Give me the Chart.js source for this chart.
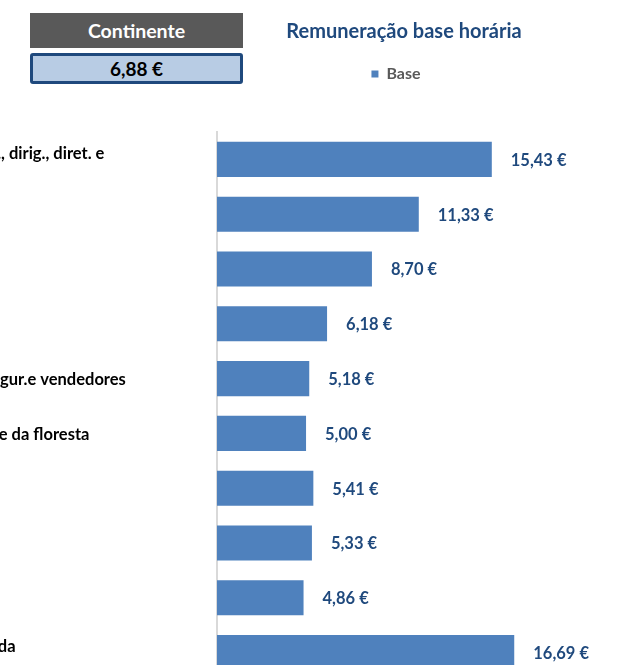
<!DOCTYPE html>
<html lang="pt">
<head>
<meta charset="utf-8">
<script src="https://cdn.jsdelivr.net/npm/chart.js@4"></script>
<style>
  html, body { margin: 0; padding: 0; background: #fff; overflow: hidden; }
  #wrap { position: relative; width: 622px; height: 680px; }
  #chart { position: absolute; left: 0; top: 0; }
  .caixa {
    position: absolute; left: 30px; width: 213px; box-sizing: border-box;
    display: flex; align-items: center; justify-content: center;
    font-family: Lato, sans-serif; font-weight: bold;
  }
  #regiao { top: 13px; height: 35px; background: #595959; color: #fff; font-size: 19.5px; }
  #media { top: 53px; height: 31px; background: #b8cce4; border: 3px solid #1f497d; border-radius: 3px; color: #000; font-size: 19px; }
</style>
</head>
<body>
<div id="wrap">
  <canvas id="chart" width="622" height="680"></canvas>
  <div id="regiao" class="caixa"></div>
  <div id="media" class="caixa"></div>
</div>
<script>
const regiao = 'Continente'
const mediaRegiao = 6.88
const titulo = 'Remuneração base horária'
const serie = 'Base'

// grandes grupos de profissões (linhas de cada rótulo)
const profissoes = [
    ['Representantes do poder legislativo e de órgãos exec., dirig., diret. e', 'gestores executivos'],
    ['Especialistas das atividades intelectuais', 'e científicas'],
    ['Técnicos e profissões de nível', 'intermédio'],
    ['Pessoal administrativo'],
    ['Trabalhadores dos serviços pessoais, de proteção e segur.e vendedores'],
    ['Agricultores e trab. qualificados da agricultura, pesca e da floresta'],
    ['Trabalhadores qualificados da indústria,', 'construção e artífices'],
    ['Operadores de instalações e máquinas', 'e trabalhadores da montagem'],
    ['Trabalhadores não qualificados'],
    ['Profissões das Forças Armadas e situação desconhecida', 'ou não especificada'],
]
const valores = [15.43, 11.33, 8.70, 6.18, 5.18, 5.00, 5.41, 5.33, 4.86, 16.69]

const eixoMax = 21
// os rótulos começam fora da área visível, à esquerda
const inicioRotulos = -391

function formatEuro(valor) {
    return `${valor.toFixed(2).replace('.', ',')} €`
}

document.getElementById('regiao').textContent = regiao
document.getElementById('media').textContent = formatEuro(mediaRegiao)

const rotulosCategorias = {
    id: 'rotulosCategorias',
    afterDraw(chart) {
        const ctx = chart.ctx
        const escala = chart.scales.y
        ctx.save()
        ctx.font = 'bold 16.5px Lato'
        ctx.fillStyle = '#000'
        ctx.textAlign = 'left'
        ctx.textBaseline = 'middle'
        profissoes.forEach((linhas, i) => {
            const centro = escala.getPixelForValue(i) + 1
            const topo = centro - (linhas.length - 1) * 14 / 2
            linhas.forEach((linha, j) => ctx.fillText(linha, inicioRotulos, topo + j * 14))
        })
        ctx.restore()
    },
}

const rotulosValores = {
    id: 'rotulosValores',
    afterDatasetsDraw(chart) {
        const ctx = chart.ctx
        ctx.save()
        ctx.font = 'bold 16.5px Lato'
        ctx.fillStyle = '#1f497d'
        ctx.textAlign = 'left'
        ctx.textBaseline = 'middle'
        chart.getDatasetMeta(0).data.forEach((barra, i) => {
            ctx.fillText(formatEuro(valores[i]), barra.x + 19, barra.y + 1)
        })
        ctx.restore()
    },
}

// legenda: mais espaço por baixo e ligeiro desvio para a esquerda
const ajusteLegenda = {
    id: 'ajusteLegenda',
    beforeInit(chart) {
        const fitOriginal = chart.legend.fit
        chart.legend.fit = function () {
            fitOriginal.call(this)
            this.height += 40
        }
    },
    afterLayout(chart) {
        chart.legend.left -= 8
        chart.legend.right -= 8
    },
}

new Chart(document.getElementById('chart'), {
    type: 'bar',
    data: {
        labels: profissoes.map(l => l.join(' ')),
        datasets: [{
            label: serie,
            data: valores,
            backgroundColor: '#4f81bd',
            barPercentage: 0.64,
            categoryPercentage: 1,
        }],
    },
    options: {
        indexAxis: 'y',
        responsive: false,
        animation: false,
        layout: { padding: { left: 217, right: 31, top: 10, bottom: 0 } },
        plugins: {
            title: {
                display: true,
                text: titulo,
                fullSize: false,
                color: '#1f497d',
                font: { family: 'Lato', size: 20, weight: 'bold' },
                padding: { top: 10, bottom: 12 },
            },
            legend: {
                position: 'top',
                fullSize: false,
                labels: {
                    boxWidth: 7,
                    boxHeight: 7,
                    color: '#595959',
                    font: { family: 'Lato', size: 16, weight: 'bold' },
                },
            },
            tooltip: { enabled: false },
        },
        scales: {
            x: { display: false, min: 0, max: eixoMax },
            y: {
                grid: { display: false, drawTicks: false },
                border: { display: true, color: '#d9d9d9', width: 2 },
                ticks: { display: false },
                afterFit: scale => { scale.width = 0 },
            },
        },
    },
    plugins: [rotulosCategorias, rotulosValores, ajusteLegenda],
})
</script>
</body>
</html>
